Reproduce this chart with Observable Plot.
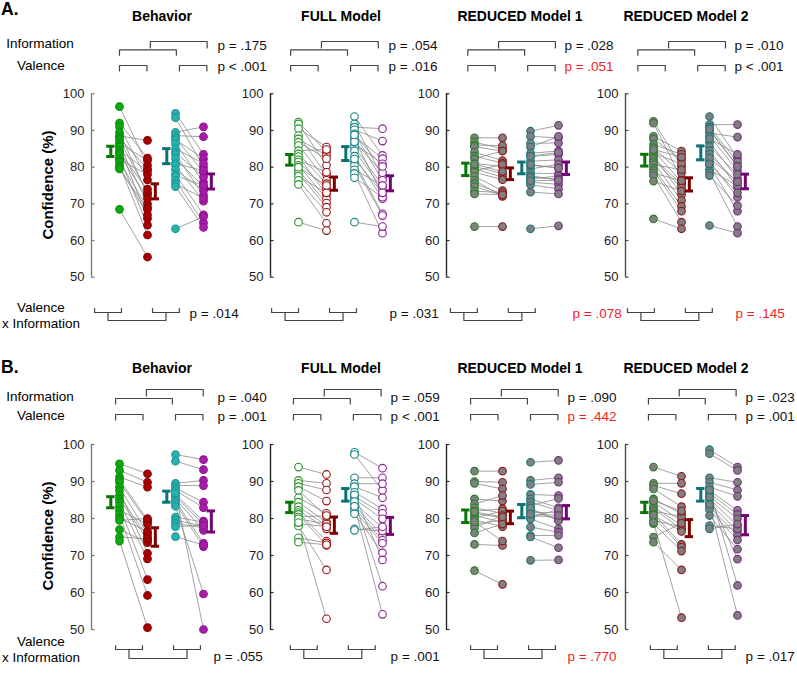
<!DOCTYPE html>
<html><head><meta charset="utf-8">
<script src="https://cdn.jsdelivr.net/npm/d3@7"></script>
<script src="https://cdn.jsdelivr.net/npm/@observablehq/plot@0.6"></script>
<style>
body{margin:0;background:#fff;}
#fig{position:relative;width:797px;height:676px;overflow:hidden;background:#fff;font-family:"Liberation Sans",Arial,sans-serif;}
#fig svg{position:absolute;overflow:visible;}
</style></head><body><div id="fig"></div>
<script>
// ---------------- DATA ----------------
const rowLabels = ["A.", "B."];
const panelNames = ["Behavior", "FULL Model", "REDUCED Model 1", "REDUCED Model 2"];
const yTicks = [50, 60, 70, 80, 90, 100];

// Row A — per-subject confidence (%) in the four conditions (c1 green, c2 red, c3 teal, c4 purple)
const A_beh_c1 = [96.5, 92, 91, 89.5, 88.5, 88, 87.5, 86.5, 86, 85.5, 84.5, 84, 83.5, 82.5, 82, 81.5, 80.5, 80, 79.5, 68.5];
const A_beh_c2 = [80.5, 82.5, 76.5, 72.5, 87.3, 79.5, 73, 81.8, 70, 66, 79, 74, 71.5, 64.2, 78, 69, 61.5, 67, 68.5, 55.5];
const A_beh_c3 = [94.7, 93.5, 89.5, 88.6, 88, 87.5, 86.4, 85, 84, 83.5, 82.3, 81, 80.5, 79.3, 78, 77.7, 76.4, 75.5, 74.7, 63.2];
const A_beh_c4 = [83.5, 80, 91, 88.3, 78.6, 82.3, 75.9, 81, 77.3, 72.3, 74.7, 79, 70.7, 73.6, 67, 75, 64.8, 71.5, 63.6, 66.5];

const A_full_c1 = [92.3, 91.8, 90.5, 88.6, 87.7, 86.8, 85.9, 84.5, 83.6, 82.9, 82, 81.4, 80.5, 79.1, 78.2, 77.5, 76.4, 75.3, 80, 65];
const A_full_c2 = [84.1, 80.5, 85.5, 77.9, 83.2, 82.3, 76.4, 84.8, 75.5, 72.5, 78.6, 74.1, 71.4, 70.2, 69.1, 73, 67.7, 64.7, 75, 62.7];
const A_full_c3 = [93.8, 91.8, 90.9, 90.2, 89.1, 88.5, 87.7, 86.4, 85.5, 84.5, 83, 81.4, 80.5, 79.3, 78.3, 77.1, 86.9, 82.2, 88.8, 65];
const A_full_c4 = [83.2, 77.3, 90.5, 87.1, 76.4, 82.3, 72.3, 80.9, 75, 74.1, 71.4, 67.3, 66.8, 75, 62, 71.8, 78.5, 73, 80.2, 63.8];

const A_red1_c1 = [88, 86.8, 86, 85.6, 84.1, 83, 82.3, 81, 80.2, 79.5, 79, 78.6, 77.5, 76.4, 75.5, 74.7, 73.5, 72.7, 80.8, 63.8];
const A_red1_c2 = [88, 85, 85.9, 84.4, 81.8, 81.1, 84.4, 80.2, 78.2, 77.3, 80.7, 76.6, 73.6, 72, 72.7, 72.3, 73, 72.5, 78.8, 63.8];
const A_red1_c3 = [89.8, 88.4, 86.5, 85.5, 83.8, 82.9, 81.6, 80.5, 79.5, 78.4, 77.7, 76.8, 75.9, 75.2, 73.2, 80.7, 83, 77.2, 76.3, 63.2];
const A_red1_c4 = [91.4, 88, 86.6, 88.4, 84.4, 83.5, 82, 79.8, 80.8, 78.2, 76.4, 77.6, 75.3, 74.1, 72.7, 79.8, 84, 76.8, 76.4, 64];

const A_red2_c1 = [92.5, 92, 88.4, 87.7, 86.2, 85.3, 84.5, 83.8, 83.2, 82.5, 82, 81.3, 80.7, 79.8, 79.1, 78.4, 77.7, 76.2, 84.8, 65.9];
const A_red2_c2 = [80.2, 76.8, 84.4, 82, 83.5, 78.4, 75.9, 80.9, 72.5, 75.3, 74.4, 70.9, 79.3, 69.3, 68, 76.3, 65, 73.5, 82.7, 63.2];
const A_red2_c3 = [93.8, 91.6, 90.9, 90, 89.3, 88.4, 86.8, 85.6, 84.5, 83.5, 81.6, 80.5, 79.3, 78.5, 77.7, 87.8, 82.5, 80.9, 90.4, 64.1];
const A_red2_c4 = [82.5, 91.6, 81.4, 80.2, 88.2, 79.1, 76.8, 78, 74.5, 75.9, 71.8, 68, 74.9, 63.8, 69.5, 83.5, 76, 73, 80.2, 62];

// Row B
const B_beh_c1 = [94.8, 93, 91.2, 90.5, 89.8, 88.5, 87.5, 86.2, 85.3, 84.4, 83.3, 82.2, 81.1, 80.1, 79.5, 77, 75, 73.9];
const B_beh_c2 = [92.1, 89.8, 88.5, 79.6, 79, 75.9, 70.6, 75, 74.2, 69.1, 63.5, 78.5, 59.2, 76.5, 80, 73.5, 74.5, 50.5];
const B_beh_c3 = [97.3, 95.5, 89.5, 88.9, 88.2, 87.6, 86.5, 86, 85.3, 84.7, 84, 83.3, 80.4, 79.5, 78.7, 77.8, 75.1, 86.9];
const B_beh_c4 = [95.9, 93.2, 90.3, 88.9, 84.4, 82.9, 79.3, 78.4, 76.8, 73.3, 72.4, 59.6, 79, 78, 77.5, 78.2, 72.8, 50];

const B_full_c1 = [93.9, 90.3, 89.5, 88.6, 87.6, 85.6, 84.4, 83.2, 82.2, 81.6, 81.1, 80.4, 79.9, 78.6, 78, 74.8, 73.6, 78.9];
const B_full_c2 = [91.9, 89.5, 87.7, 84.7, 80.5, 81.4, 79, 78.1, 77.2, 73.9, 72.7, 80.8, 78.5, 77.8, 66.1, 73.4, 72.9, 52.9];
const B_full_c3 = [97.9, 97.3, 91, 89.4, 88.6, 87.1, 85.9, 85.2, 84.1, 83.5, 82.9, 82.1, 81.3, 77.2, 76.8, 86.4, 84.6, 83.3];
const B_full_c4 = [93.6, 87.6, 91, 89.4, 85.6, 82.6, 81.4, 79.9, 77.5, 75.4, 74.1, 73.3, 70.7, 76.6, 77.8, 68.8, 61.7, 54.1];

const B_red1_c1 = [92.8, 90, 89.5, 85.3, 83.9, 82.9, 82, 81.4, 80.8, 80.2, 79.6, 78.5, 77.5, 76.1, 73, 79.1, 81.8, 65.9];
const B_red1_c2 = [92.8, 89.8, 88, 84.7, 86.2, 81.4, 82.6, 80.2, 79, 82, 77.8, 79.5, 80.8, 78.5, 72.7, 73.9, 80.4, 62.2];
const B_red1_c3 = [95.2, 90.3, 89.2, 86.5, 85.3, 84.4, 83.5, 82.4, 81.7, 80.8, 80.1, 79.9, 77.7, 75.4, 75, 82.8, 81.2, 68.7];
const B_red1_c4 = [95.7, 91, 89.8, 86.2, 82.9, 82.2, 85.4, 79.6, 81.5, 80.3, 82.5, 77.2, 76.3, 75.4, 72.1, 79.4, 80.8, 68.8];

const B_red2_c1 = [93.9, 89.5, 88.9, 88, 85.3, 84.4, 83.2, 82.6, 82, 81.3, 80.5, 79.5, 78.6, 75, 73.6, 84.8, 80.9, 78.9];
const B_red2_c2 = [91.4, 89.5, 86.7, 83.2, 81.3, 79.3, 78.1, 77.2, 80.5, 73, 72.3, 77.7, 71.2, 78.7, 66.1, 82, 76.5, 53.2];
const B_red2_c3 = [98.6, 97.5, 91, 89.8, 88.5, 87.5, 86.8, 86, 85.3, 84.2, 83.2, 82.4, 80.8, 78.1, 77.2, 85.8, 87.7, 83.8];
const B_red2_c4 = [93.9, 93, 89.8, 87.7, 86, 82.2, 81.1, 79.9, 78.1, 76.6, 75.4, 74.2, 71.7, 77.2, 78.5, 69, 61.9, 53.8];

// Means and standard errors (c1..c4)
const A_means = [[84.3, 73.4, 83.0, 76.1], [82.0, 75.5, 83.7, 75.6], [79.4, 78.2, 79.8, 79.7], [81.9, 75.3, 83.9, 76.1]];
const A_se    = [[1.4, 2.05, 2.05, 2.05], [1.45, 1.8, 1.9, 2.05], [1.7, 1.6, 1.6, 1.7], [1.6, 1.8, 1.9, 2.0]];
const B_means = [[84.4, 75.0, 85.9, 79.2], [83.0, 78.2, 86.4, 78.0], [80.6, 80.3, 82.0, 81.7], [83.0, 77.4, 86.4, 78.2]];
const B_se    = [[1.5, 2.5, 1.5, 2.85], [1.4, 2.2, 1.7, 2.3], [1.7, 1.7, 1.8, 1.8], [1.4, 2.3, 1.7, 2.6]];

// p-values: [Information, Valence, Valence x Information]
const A_pvals = [["p = .175", "p < .001", "p = .014"], ["p = .054", "p = .016", "p = .031"], ["p = .028", "p = .051", "p = .078"], ["p = .010", "p < .001", "p = .145"]];
const B_pvals = [["p = .040", "p = .001", "p = .055"], ["p = .059", "p < .001", "p = .001"], ["p = .090", "p = .442", "p = .770"], ["p = .023", "p = .001", "p = .017"]];
// which p-values are flagged (drawn in red)
const A_flag = [[0,0,0],[0,0,0],[0,1,1],[0,0,1]];
const B_flag = [[0,0,0],[0,0,0],[0,1,1],[0,0,0]];

// ---------------- LAYOUT / STYLE ----------------
const rowData = [
  {vals: [[A_beh_c1, A_beh_c2, A_beh_c3, A_beh_c4], [A_full_c1, A_full_c2, A_full_c3, A_full_c4], [A_red1_c1, A_red1_c2, A_red1_c3, A_red1_c4], [A_red2_c1, A_red2_c2, A_red2_c3, A_red2_c4]],
   means: A_means, se: A_se, p: A_pvals, flag: A_flag},
  {vals: [[B_beh_c1, B_beh_c2, B_beh_c3, B_beh_c4], [B_full_c1, B_full_c2, B_full_c3, B_full_c4], [B_red1_c1, B_red1_c2, B_red1_c3, B_red1_c4], [B_red2_c1, B_red2_c2, B_red2_c3, B_red2_c4]],
   means: B_means, se: B_se, p: B_pvals, flag: B_flag}
];

const axisX = [91, 270, 446, 625];
const PXU = 28; // px per x unit
const rowsLayout = [
  {top: 0, h: 338, y100: 93.3, y50: 276.7,
   infoHi: -52.3, infoLo: -44, val: -28.3, tick: 5.5, pInfo: -44.3, pVal: -23.3,
   small: 35.3, conn: 43.3, sTick: 4, pInt: 40.5,
   titleY: 21, labelY: 15, infoTxt: 48, valTxt: 70, conf: 185, vxi1: 312, vxi2: 328,
   topShift: [1.0, 0.72, 0.76, 0.44], topP: [4.5, 4.21, 4.21, 3.89],
   botShift: [0.11, 0.04, 0.14, 0.07], botP: [3.5, 4.25, 4.5, 3.93]},
  {top: 338, h: 338, y100: 444, y50: 629,
   infoHi: -55, infoLo: -46, val: -30, tick: 5.5, pInfo: -43, pVal: -24,
   small: 20, conn: 29, sTick: 4, pInt: 31,
   titleY: 373, labelY: 373, infoTxt: 401, valTxt: 420, conf: 536, vxi1: 646, vxi2: 662,
   topShift: [0.86, 0.82, 0.86, 0.82], topP: [4.5, 4.29, 4.32, 4.29],
   botShift: [0.86, 0.71, 0.86, 0.89], botP: [4.36, 4.29, 4.32, 4.29]}
];
const titleCenters = [162, 341, 520, 686];

const colX = [1, 2, 3, 4];
const errOff = [-0.31, 0.28, -0.31, 0.28];
const panelKind = ["behavior", "full", "reduced", "reduced"];
const dotFill = {
  behavior: ["#0fa80f", "#a60000", "#29b1b1", "#a81da8"],
  full: ["#ffffff", "#ffffff", "#ffffff", "#ffffff"],
  reduced: ["#808080", "#808080", "#808080", "#808080"]
};
const dotStroke = {
  behavior: ["#0c900c", "#8c0000", "#1c9898", "#8e148e"],
  full: ["#2b8f2b", "#9a1212", "#178282", "#8a1f92"],
  reduced: ["#2c7d2c", "#8c1818", "#187676", "#7c2a88"]
};
const errColor = ["#0a730a", "#7d0000", "#0e7272", "#720672"];
const axisColor = ["#7a7a7a", "#262626", "#262626", "#4a4a4a"];
const FONT = "Liberation Sans, Arial, sans-serif";

const fig = document.getElementById("fig");

function drawPanel(ri, pi) {
  const R = rowsLayout[ri], D = rowData[ri];
  const vals = D.vals[pi];
  const N = vals[0].length;
  const ml = 45, mr = 70, xMax = 4.5;
  const width = ml + xMax * PXU + mr;
  const mt = R.y100 - R.top, mb = R.top + R.h - R.y50;
  const ppu = (R.y50 - R.y100) / 50;
  const yT = off => 100 - off / ppu; // off: px relative to the 100 line (negative = above)
  const yB = off => 50 - off / ppu;  // off: px below the 50 line
  const kind = panelKind[pi];
  const marks = [];

  // axis
  marks.push(Plot.ruleX([0], {y1: 50, y2: 100, stroke: axisColor[pi], strokeWidth: 1.4}));
  marks.push(Plot.axisY({ticks: yTicks, anchor: "left", tickSize: -3.5, tickPadding: 10.5, stroke: axisColor[pi], strokeWidth: 1.2,
    fill: "#1e1e1e", fontSize: 13, label: null, tickFormat: d => String(d)}));

  // subject lines
  const idx = d3.range(N);
  marks.push(Plot.link(idx, {x1: () => colX[0], x2: () => colX[1], y1: i => vals[0][i], y2: i => vals[1][i], stroke: "#8a8a8a", strokeWidth: 0.8}));
  marks.push(Plot.link(idx, {x1: () => colX[2], x2: () => colX[3], y1: i => vals[2][i], y2: i => vals[3][i], stroke: "#8a8a8a", strokeWidth: 0.8}));

  // dots
  for (let c = 0; c < 4; c++) {
    marks.push(Plot.dot(vals[c], {x: () => colX[c], y: d => d, r: 3.8, fill: dotFill[kind][c], stroke: dotStroke[kind][c], strokeWidth: 1.1}));
  }

  // error bars
  for (let c = 0; c < 4; c++) {
    const m = D.means[pi][c], s = D.se[pi][c], xe = colX[c] + errOff[c];
    marks.push(Plot.ruleX([m], {x: () => xe, y1: d => d - s, y2: d => d + s, stroke: errColor[c], strokeWidth: 3}));
    marks.push(Plot.ruleY([m - s, m + s], {y: d => d, x1: () => xe - 0.15, x2: () => xe + 0.15, stroke: errColor[c], strokeWidth: 3}));
  }

  // brackets (top)
  const ts = R.topShift[pi];
  const br = [];
  const topBr = (id, a, b, lvl, t) => {
    br.push({id, x: ts + a, y: yT(lvl + t)}, {id, x: ts + a, y: yT(lvl)}, {id, x: ts + b, y: yT(lvl)}, {id, x: ts + b, y: yT(lvl + t)});
  };
  topBr("i1", 0, 2.03, R.infoLo, R.tick);
  topBr("i2", 1.1, 3.13, R.infoHi, R.tick + 1);
  topBr("v1", 0, 0.98, R.val, R.tick);
  topBr("v2", 2.14, 3.12, R.val, R.tick);
  // brackets (bottom)
  const bs = R.botShift[pi];
  const botBr = (id, a, b, lvl, t) => {
    br.push({id, x: bs + a, y: yB(lvl - t)}, {id, x: bs + a, y: yB(lvl)}, {id, x: bs + b, y: yB(lvl)}, {id, x: bs + b, y: yB(lvl - t)});
  };
  botBr("s1", 0, 0.96, R.small, R.sTick);
  botBr("s2", 2.07, 3.03, R.small, R.sTick);
  botBr("c", 0.48, 2.55, R.conn, R.conn - R.small);
  marks.push(Plot.line(br, {x: "x", y: "y", z: "id", stroke: "#444", strokeWidth: 1.2, curve: "linear"}));

  // p-values
  const pt = [
    {x: R.topP[pi], y: yT(R.pInfo), t: D.p[pi][0], f: D.flag[pi][0]},
    {x: R.topP[pi], y: yT(R.pVal), t: D.p[pi][1], f: D.flag[pi][1]},
    {x: R.botP[pi], y: yB(R.pInt), t: D.p[pi][2], f: D.flag[pi][2]}
  ];
  marks.push(Plot.text(pt, {x: "x", y: "y", text: "t", fill: d => d.f ? "#f01e1e" : "#111", textAnchor: "start", lineAnchor: "bottom", fontSize: 13.5}));

  const svg = Plot.plot({
    width, height: R.h,
    marginLeft: ml, marginRight: mr, marginTop: mt, marginBottom: mb,
    x: {domain: [0, xMax], axis: null},
    y: {domain: [50, 100], axis: null},
    color: {type: "identity"},
    style: {fontFamily: FONT, background: "transparent", overflow: "visible"},
    marks
  });
  svg.style.left = (axisX[pi] - ml) + "px";
  svg.style.top = R.top + "px";
  fig.appendChild(svg);
}

for (let ri = 0; ri < 2; ri++) for (let pi = 0; pi < 4; pi++) drawPanel(ri, pi);

// ---------------- TEXT OVERLAY ----------------
const ov = d3.select(fig).append("svg").attr("width", 797).attr("height", 676)
  .style("left", "0px").style("top", "0px").style("font-family", FONT);
rowsLayout.forEach((R, ri) => {
  ov.append("text").attr("x", 1).attr("y", R.labelY).attr("font-size", 17.5).attr("font-weight", "bold").text(rowLabels[ri]);
  panelNames.forEach((n, pi) => ov.append("text").attr("x", titleCenters[pi]).attr("y", R.titleY)
    .attr("text-anchor", "middle").attr("font-size", 14).attr("font-weight", "bold").text(n));
  ov.append("text").attr("x", 40).attr("y", R.infoTxt).attr("text-anchor", "middle").attr("font-size", 13.5).text("Information");
  ov.append("text").attr("x", 41).attr("y", R.valTxt).attr("text-anchor", "middle").attr("font-size", 13.5).text("Valence");
  ov.append("text").attr("transform", `translate(53,${R.conf}) rotate(-90)`).attr("text-anchor", "middle")
    .attr("font-size", 15).attr("font-weight", "bold").text("Confidence (%)");
  ov.append("text").attr("x", 41).attr("y", R.vxi1).attr("text-anchor", "middle").attr("font-size", 13.5).text("Valence");
  ov.append("text").attr("x", 41).attr("y", R.vxi2).attr("text-anchor", "middle").attr("font-size", 13.5).text("x Information");
});
</script>
</body></html>
